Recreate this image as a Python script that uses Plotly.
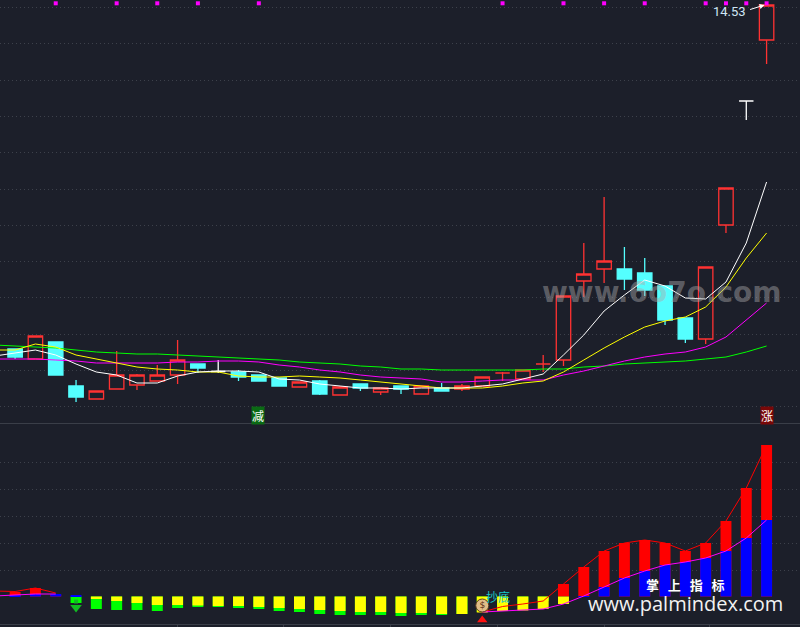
import plotly.graph_objects as go

# ---- price panel data (one entry per session) ----
sessions = list(range(38))
opens = [11.09,10.99,11.16,10.72,10.59,10.69,10.73,10.77,10.83,10.94,10.865,10.86,10.83,10.80,10.71,10.77,10.63,10.74,10.66,10.72,
         10.64,10.70,10.69,10.72,10.85,10.79,10.94,10.98,11.77,11.89,11.89,11.85,11.72,11.40,11.19,12.33,13.57,14.18]
highs = [11.09,11.22,11.16,10.78,10.67,11.07,10.84,10.93,11.18,10.94,10.98,10.88,10.83,10.80,10.76,10.78,10.72,10.74,10.70,10.72,
         10.72,10.75,10.74,10.81,10.86,10.88,11.03,11.62,12.15,12.61,12.11,12.00,11.72,11.40,11.91,12.70,13.57,14.53]
lows = [10.99,10.99,10.83,10.56,10.59,10.69,10.68,10.77,10.74,10.85,10.85,10.77,10.77,10.72,10.71,10.63,10.63,10.67,10.63,10.64,
        10.64,10.67,10.67,10.72,10.77,10.79,10.86,10.92,11.61,11.75,11.68,11.62,11.33,11.15,11.14,12.25,13.38,13.94]
closes = [11.01,11.22,10.83,10.61,10.67,10.83,10.83,10.83,10.98,10.90,10.865,10.81,10.77,10.72,10.76,10.64,10.71,10.70,10.70,10.69,
          10.72,10.67,10.72,10.81,10.85,10.88,10.94,11.62,11.84,11.97,11.79,11.68,11.38,11.19,11.91,12.70,13.57,14.53]
white_doji = [10, 36]

ma_sessions = list(range(-1, 38))
ma_white = [11.02,11.05,11.08,11.03,10.94,10.86,10.83,10.75,10.75,10.82,10.86,10.87,10.87,10.86,10.79,10.78,10.74,10.72,10.70,10.70,
            10.69,10.70,10.70,10.70,10.72,10.74,10.79,10.84,11.03,11.23,11.47,11.63,11.78,11.72,11.60,11.59,11.76,12.15,12.76]
ma_yellow = [11.08,11.08,11.14,11.11,11.03,10.99,10.95,10.91,10.89,10.88,10.86,10.86,10.82,10.81,10.81,10.82,10.81,10.80,10.78,10.76,
             10.74,10.72,10.70,10.70,10.70,10.72,10.75,10.77,10.86,10.98,11.10,11.21,11.31,11.37,11.41,11.51,11.71,12.00,12.25]
ma_magenta = [10.99,10.99,10.99,10.98,10.97,10.95,10.95,10.95,10.95,10.96,10.96,10.97,10.97,10.96,10.93,10.91,10.88,10.86,10.83,10.81,
              10.80,10.79,10.76,10.76,10.77,10.78,10.78,10.78,10.83,10.87,10.92,10.97,11.01,11.04,11.06,11.11,11.21,11.38,11.55]
ma_green = [11.13,11.12,11.11,11.10,11.08,11.06,11.05,11.04,11.04,11.03,11.02,11.01,11.00,10.99,10.98,10.96,10.95,10.94,10.92,10.91,
            10.89,10.89,10.88,10.88,10.88,10.88,10.88,10.89,10.89,10.91,10.92,10.94,10.95,10.96,10.97,10.99,11.01,11.06,11.12]

signal_sessions = [2, 5, 7, 9, 12, 24, 27, 29, 31, 34, 35, 36, 37]
signal_level = 14.547
high_label = "14.53"

# ---- indicator panel data ----
fast = [.045,.085,.02,-.065,-.125,-.135,-.135,-.145,-.115,-.105,-.105,-.115,-.125,-.145,-.155,-.175,-.185,-.185,-.185,-.195,
        -.185,-.185,-.175,-.155,-.10,-.075,-.045,.125,.295,.455,.535,.565,.535,.455,.535,.755,1.085,1.515]
slow = [.015,.025,.025,.01,-.025,-.045,-.065,-.085,-.085,-.09,-.095,-.095,-.105,-.115,-.125,-.135,-.145,-.155,-.155,-.165,
        -.165,-.175,-.175,-.16,-.145,-.14,-.125,-.075,.005,.095,.185,.255,.315,.345,.385,.455,.585,.765]
fast_line_head = [.055,.05,.085,.035]
slow_line_head = [.005,.015,.025,.025]
line_sessions_head = [-1, 0, 1, 2]
line_sessions_tail = list(range(23, 38))
fast_line_tail = [-.155,-.10,-.075,-.045,.125,.295,.455,.535,.565,.535,.455,.535,.755,1.085,1.515]
slow_line_tail = [-.155,-.145,-.135,-.125,-.075,.005,.095,.185,.255,.315,.345,.385,.455,.585,.765]

time_ticks = [8.0, 13.2, 18.5, 23.75, 29.0, 34.2]

BG = "#1c1f2a"
GRID = "#3d414b"
AXIS = "#3a3e48"
RED = "#ff3232"
CYAN = "#54ffff"
BAR_RED = "#ff0000"
BAR_BLUE = "#0000ff"
BAR_GREEN = "#00ff00"
BAR_YELLOW = "#ffff00"

fig = go.Figure()


def candles(idx, up, down):
    fig.add_trace(go.Candlestick(
        x=[sessions[i] for i in idx], open=[opens[i] for i in idx], high=[highs[i] for i in idx],
        low=[lows[i] for i in idx], close=[closes[i] for i in idx], xaxis="x", yaxis="y",
        increasing=dict(line=dict(color=up[0], width=1.3), fillcolor=up[1]),
        decreasing=dict(line=dict(color=down[0], width=1.3), fillcolor=down[1]),
        whiskerwidth=0, showlegend=False, hoverinfo="skip"))


rest = [i for i in sessions if i not in white_doji]
candles(rest, (RED, "rgba(0,0,0,0)"), (CYAN, CYAN))
candles(white_doji, ("#ffffff", "#ffffff"), ("#ffffff", "#ffffff"))

for values, colour in [(ma_green, "#00ff00"), (ma_magenta, "#ff00ff"), (ma_yellow, "#ffff00"), (ma_white, "#ffffff")]:
    fig.add_trace(go.Scatter(x=ma_sessions, y=values, mode="lines", line=dict(color=colour, width=1),
                             xaxis="x", yaxis="y", showlegend=False, hoverinfo="skip"))

fig.add_trace(go.Scatter(x=signal_sessions, y=[signal_level] * len(signal_sessions), mode="markers",
                         marker=dict(symbol="square", size=4, color="#ff00ff"), xaxis="x", yaxis="y",
                         showlegend=False, hoverinfo="skip", cliponaxis=False))

# indicator bars: fast layer first, slow layer on top of it
fig.add_trace(go.Bar(x=sessions, y=fast, width=0.54, xaxis="x2", yaxis="y2", showlegend=False, hoverinfo="skip",
                     marker=dict(color=[BAR_RED if v > 0 else BAR_GREEN for v in fast], line_width=0)))
fig.add_trace(go.Bar(x=sessions, y=slow, width=0.54, xaxis="x2", yaxis="y2", showlegend=False, hoverinfo="skip",
                     marker=dict(color=[BAR_BLUE if v > 0 else BAR_YELLOW for v in slow], line_width=0)))

for xs, ys, colour in [(line_sessions_head, fast_line_head, "#ff0000"), (line_sessions_head, slow_line_head, "#ff00ff"),
                       (line_sessions_tail, fast_line_tail, "#ff0000"), (line_sessions_tail, slow_line_tail, "#ff00ff")]:
    fig.add_trace(go.Scatter(x=xs, y=ys, mode="lines", line=dict(color=colour, width=1), xaxis="x2", yaxis="y2",
                             showlegend=False, hoverinfo="skip"))

# bottom markers: green down arrow at session 3, money bag and red up arrow at session 23
fig.add_trace(go.Scatter(x=[3], y=[-.05], mode="markers", marker=dict(symbol="square", size=4, color="#11bb22"),
                         xaxis="x2", yaxis="y2", showlegend=False, hoverinfo="skip"))
fig.add_trace(go.Scatter(x=[3], y=[-.11], mode="markers", marker=dict(symbol="triangle-down", size=10, color="#11bb22"),
                         xaxis="x2", yaxis="y2", showlegend=False, hoverinfo="skip"))
fig.add_trace(go.Scatter(x=[23], y=[-.235], mode="markers", marker=dict(symbol="triangle-up", size=9, color="#ff1010"),
                         xaxis="x2", yaxis="y2", showlegend=False, hoverinfo="skip"))
fig.add_trace(go.Scatter(x=[23], y=[-.09], mode="markers+text", text=["$"], textposition="middle center",
                         textfont=dict(size=9, color="#5a2c10", family="DejaVu Sans"),
                         marker=dict(symbol="circle", size=13, color="#e2bd86", line=dict(color="#5a3a20", width=1)),
                         xaxis="x2", yaxis="y2", showlegend=False, hoverinfo="skip"))

def label(x, y, text, size, colour, family, **extra):
    return dict(xref="paper", yref="paper", x=x / 800, y=1 - y / 624, text=text, showarrow=False,
                xanchor="center", yanchor="middle",
                font=dict(size=size, color=colour, family=family, weight=extra.pop("weight", "normal")), **extra)


annotations = [
    label(729, 11, high_label, 13, "#cfe6f5", "Roboto, DejaVu Sans"),
    dict(x=36.9, y=14.53, xref="x", yref="y", ax=-16, ay=5, text="", showarrow=True,
         arrowcolor="#ffffff", arrowwidth=1, arrowhead=2, arrowsize=1),
    label(258, 415, "减", 12, "#ffffff", "Noto Sans CJK SC", bgcolor="#0b6b14", borderpad=0),
    label(767, 415, "涨", 12, "#ffffff", "Noto Sans CJK SC", bgcolor="#7a0808", borderpad=0),
    label(498, 596, "抄底", 12, "#18c8c8", "Noto Sans CJK SC"),
    label(662, 292, "www.6o7o.com", 28, "rgba(170,170,170,0.45)", "DejaVu Sans", weight="bold"),
    label(685, 584, "掌\u00a0\u00a0\u00a0上\u00a0\u00a0\u00a0指\u00a0\u00a0\u00a0标", 13, "#ffffff", "Noto Sans CJK SC", weight="bold"),
    label(685, 603, "www.palmindex.com", 20, "#f2f2f2", "Open Sans"),
]

x_range = [-0.744, 38.645]
price_ticks = [14.505 - 0.363 * k for k in range(12)]
indicator_ticks = [.265, .535, .805, 1.075, 1.345]

fig.update_layout(
    width=800, height=627, margin=dict(l=0, r=0, t=0, b=3),
    paper_bgcolor=BG, plot_bgcolor=BG, barmode="overlay", boxgap=0.29, boxgroupgap=0,
    hovermode=False, annotations=annotations,
    xaxis=dict(domain=[0, 1], range=x_range, anchor="y", showgrid=False, zeroline=False, showticklabels=False,
               showline=True, linecolor=AXIS, linewidth=1, rangeslider=dict(visible=False), ticks=""),
    yaxis=dict(domain=[201 / 624, 1], range=[10.35, 14.58], anchor="x", tickmode="array", tickvals=price_ticks,
               showticklabels=False, ticks="", showgrid=True, gridcolor=GRID, gridwidth=1, griddash="1px,3px",
               zeroline=False),
    xaxis2=dict(domain=[0, 1], range=x_range, anchor="y2", showgrid=False, zeroline=False, showticklabels=False,
                showline=True, linecolor=AXIS, linewidth=1, tickmode="array", tickvals=time_ticks, ticks="outside",
                ticklen=3, tickcolor=AXIS, tickwidth=1),
    yaxis2=dict(domain=[0, 200 / 624], range=[-.275, 1.725], anchor="x2", tickmode="array", tickvals=indicator_ticks,
                showticklabels=False, ticks="", showgrid=True, gridcolor=GRID, gridwidth=1, griddash="1px,3px",
                zeroline=False),
)

fig.write_html("out.html", config=dict(displayModeBar=False),
               post_script="document.body.style.margin='0';document.body.style.background='%s';document.body.style.overflow='hidden';" % BG)
